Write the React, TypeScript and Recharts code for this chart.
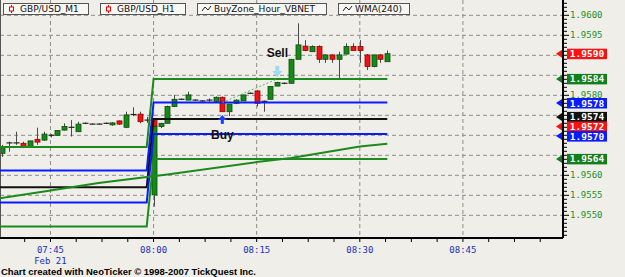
import React from "react";
import {
  ComposedChart,
  Bar,
  Line,
  XAxis,
  YAxis,
  CartesianGrid,
  ReferenceDot,
  ReferenceLine,
} from "recharts";

// minutes relative to 08:00 (Feb 21), one GBP/USD M1 candle each
const minutes = [
  -22, -21, -20, -19, -18, -17, -16, -15, -14, -13, -12, -11, -10, -9, -8, -7,
  -6, -5, -4, -3, -2, -1, 0, 1, 2, 3, 4, 5, 6, 7, 8, 9, 10, 11, 12, 13, 14, 15,
  16, 17, 18, 19, 20, 21, 22, 23, 24, 25, 26, 27, 28, 29, 30, 31, 32, 33, 34,
];
const m1Open = [
  1.95655, 1.9568, 1.9568, 1.9568, 1.95671, 1.9569, 1.95688, 1.95699, 1.957,
  1.95713, 1.95719, 1.95709, 1.9573, 1.95728, 1.95728, 1.9573, 1.95726, 1.95736,
  1.9572, 1.95751, 1.95753, 1.95737, 1.9574, 1.95722, 1.9573, 1.95772, 1.9579,
  1.95788, 1.95788, 1.95786, 1.95786, 1.95785, 1.95795, 1.95759, 1.9578,
  1.95786, 1.95805, 1.95811, 1.95784, 1.9579, 1.95823, 1.9583, 1.9583, 1.9589,
  1.95923, 1.95909, 1.95922, 1.9589, 1.95901, 1.9589, 1.95903, 1.95922,
  1.95922, 1.95901, 1.95872, 1.95901, 1.95884,
];
const m1High = [
  1.95676, 1.95684, 1.95709, 1.95684, 1.95686, 1.95719, 1.95709, 1.95703,
  1.95712, 1.9573, 1.95738, 1.95734, 1.95732, 1.9573, 1.9573, 1.95732, 1.95733,
  1.95737, 1.95759, 1.9577, 1.95759, 1.95746, 1.95743, 1.95731, 1.95774,
  1.95801, 1.95792, 1.95809, 1.9579, 1.95788, 1.95792, 1.95797, 1.95797,
  1.95778, 1.9579, 1.95801, 1.95807, 1.95813, 1.95787, 1.95822, 1.95834,
  1.95832, 1.9589, 1.9598, 1.95938, 1.95925, 1.95925, 1.95903, 1.95903,
  1.95909, 1.9593, 1.9593, 1.95938, 1.95903, 1.95901, 1.95903, 1.95912,
];
const m1Low = [
  1.95646, 1.95659, 1.95676, 1.95668, 1.95671, 1.95676, 1.95686, 1.95695, 1.957,
  1.95712, 1.95697, 1.95709, 1.95728, 1.95727, 1.95727, 1.95728, 1.95724,
  1.95726, 1.95718, 1.95748, 1.9573, 1.95731, 1.95723, 1.95718, 1.9573,
  1.95772, 1.95788, 1.95788, 1.95786, 1.95784, 1.95784, 1.95783, 1.95759,
  1.95748, 1.95778, 1.95786, 1.95803, 1.95772, 1.95759, 1.9579, 1.95823,
  1.95828, 1.9583, 1.9589, 1.9591, 1.95909, 1.95881, 1.95881, 1.95881, 1.95843,
  1.95903, 1.95912, 1.95881, 1.95863, 1.9587, 1.95881, 1.95884,
];
const m1Close = [
  1.95671, 1.95681, 1.95681, 1.95671, 1.95686, 1.95683, 1.95703, 1.957, 1.95712,
  1.95722, 1.9572, 1.95728, 1.9573, 1.95728, 1.95728, 1.9573, 1.95731, 1.95728,
  1.95751, 1.95752, 1.95734, 1.95738, 1.95723, 1.9573, 1.95772, 1.9579, 1.9579,
  1.95801, 1.95788, 1.95786, 1.95788, 1.95795, 1.95759, 1.95778, 1.95788,
  1.95801, 1.95805, 1.9578, 1.95785, 1.95822, 1.95832, 1.9583, 1.9589, 1.95926,
  1.95912, 1.95922, 1.9589, 1.95901, 1.9589, 1.95901, 1.95922, 1.95912,
  1.95912, 1.95872, 1.95901, 1.9589, 1.95904,
];

// GBP/USD H1 bar (07:00 hour) drawn at 08:00
const h1Time = 0;
const h1Bar = { open: 1.95551, high: 1.95722, low: 1.95522, close: 1.95722 };

// BuyZone_Hour_VBNET levels: before / after the 08:00 hour change
const zoneTimes = [-23, -1, 0, 34];
const zoneBefore = [1.95671, 1.95612, 1.9557, 1.95532, 1.95472];
const zoneAfter = [1.95841, 1.95782, 1.95741, 1.95703, 1.95641];

// WMA(240)
const wmaTimes = [-23, -15, -8, -1, 2, 15, 20, 30, 34];
const wmaValues = [
  1.95541, 1.95562, 1.95581, 1.95596, 1.95602, 1.95633, 1.95643, 1.95672,
  1.95679,
];

// buy / sell signals
const signals = [
  { t: 10, price: 1.95751, kind: "Buy" },
  { t: 18, price: 1.95846, kind: "Sell" },
];
const tradeTimes = [10, 18];
const tradePrices = [1.95782, 1.95841];

// axes
const xMajor = [-15, 0, 15, 30, 45];
const xLabels = ["07:45", "08:00", "08:15", "08:30", "08:45"];
const dateLabel = "Feb 21";
const yMajor = [
  1.955, 1.9555, 1.956, 1.9565, 1.957, 1.9575, 1.958, 1.9585, 1.959, 1.9595,
  1.96,
];

const legendItems = ["GBP/USD_M1", "GBP/USD_H1", "BuyZone_Hour_VBNET", "WMA(240)"];

const GREEN = "#1c8a1c";
const BLUE = "#0a1cff";
const RED = "#ff1010";
const BLACK = "#111111";
const zoneColors = [GREEN, BLUE, BLACK, BLUE, GREEN];

const xDomain = [-22.34, 59.56];
const yDomain = [1.9544325, 1.9603825];

const xTicks: number[] = [];
for (let v = -18.75; v <= 56.25; v += 3.75) xTicks.push(v);
const yMinor: number[] = [];
for (let k = 19545; k <= 19603; k++) yMinor.push(k / 10000);

// last-value tags on the price axis (nudge = px shift to keep them apart)
const tags = [
  { value: m1Close[m1Close.length - 1], color: RED, nudge: 0 },
  { value: zoneAfter[0], color: "#12801a", nudge: 0 },
  { value: zoneAfter[1], color: BLUE, nudge: 0.5 },
  { value: zoneAfter[2], color: BLACK, nudge: -2 },
  { value: h1Bar.close, color: RED, nudge: 0 },
  { value: zoneAfter[3], color: BLUE, nudge: 2 },
  { value: zoneAfter[4], color: "#12801a", nudge: 0 },
];

const candles = minutes.map((t, i) => ({
  t,
  open: m1Open[i],
  high: m1High[i],
  low: m1Low[i],
  close: m1Close[i],
  h1: t === h1Time ? h1Bar : null,
}));

const envelope = (d: any): [number, number] =>
  d.h1
    ? [Math.min(d.low, d.h1.low), Math.max(d.high, d.h1.high)]
    : [d.low, d.high];

const zoneSeries = zoneBefore.map((b, i) =>
  zoneTimes.map((t, j) => ({ t, v: j < 2 ? b : zoneAfter[i] }))
);
const wmaData = wmaTimes.map((t, i) => ({ t, v: wmaValues[i] }));
const tradeData = tradeTimes.map((t, i) => ({ t, v: tradePrices[i] }));

function Candle(props: any) {
  const { x, y, width, height, payload } = props;
  if (x == null || y == null || !payload) return null;
  const [lo, hi] = envelope(payload);
  const top = Math.min(y, y + height);
  const bot = Math.max(y, y + height);
  const py = (v: number) =>
    hi === lo ? top : top + ((hi - v) / (hi - lo)) * (bot - top);
  const cx = Math.round(x + width / 2) + 0.5;

  const draw = (c: any, key: string) => {
    const yo = py(c.open);
    const yc = py(c.close);
    const up = c.close >= c.open;
    const bt = Math.min(yo, yc);
    const bh = Math.abs(yo - yc);
    return (
      <g key={key}>
        <line x1={cx} x2={cx} y1={py(c.high)} y2={py(c.low)} stroke="#4a4a4a" />
        {bh < 1.2 ? (
          <line x1={cx - 3} x2={cx + 3} y1={yc} y2={yc} stroke="#222" strokeWidth={1.2} />
        ) : (
          <rect
            x={cx - 2.5}
            y={bt}
            width={5}
            height={bh}
            fill={up ? "#168a16" : "#f01212"}
            stroke={up ? "#0c4a0c" : "#8a0808"}
            strokeWidth={0.8}
          />
        )}
      </g>
    );
  };

  return (
    <g>
      {payload.h1 ? draw(payload.h1, "h1") : null}
      {draw(payload, "m1")}
    </g>
  );
}

function TimeTick(props: any) {
  const { x, y, payload } = props;
  const i = xMajor.indexOf(payload.value);
  return (
    <g>
      <line x1={x} x2={x} y1={y} y2={y + 4} stroke="#000" />
      {i >= 0 ? (
        <text
          x={x}
          y={y + 15}
          textAnchor="middle"
          fill="#2030b8"
          fontSize={9}
          fontFamily="DejaVu Sans Mono"
        >
          {xLabels[i]}
        </text>
      ) : null}
      {i === 0 ? (
        <text
          x={x}
          y={y + 26}
          textAnchor="middle"
          fill="#2030b8"
          fontSize={9}
          fontFamily="DejaVu Sans Mono"
        >
          {dateLabel}
        </text>
      ) : null}
    </g>
  );
}

function PriceTick(props: any) {
  const { x, y: y0, payload } = props;
  const v = payload.value;
  const tag = tags.find((g) => g.value === v);
  if (tag) {
    const y = y0 + tag.nudge;
    return (
      <g>
        <polygon
          points={`${x - 7},${y} ${x - 1},${y - 4} ${x - 1},${y + 4}`}
          fill={tag.color}
        />
        <rect x={x + 4} y={y - 5} width={40} height={10.5} fill={tag.color} />
        <text
          x={x + 24}
          y={y + 3.5}
          textAnchor="middle"
          fill="#fff"
          fontSize={9.5}
          fontWeight="bold"
          fontFamily="DejaVu Sans Mono"
        >
          {v.toFixed(4)}
        </text>
      </g>
    );
  }
  const major = yMajor.some((m) => Math.abs(m - v) < 1e-7);
  // labels sitting under a value tag are hidden by it
  const covered = tags.some((g) => Math.abs(g.value - v) < 0.00016);
  return (
    <g>
      <line x1={x} x2={x + (major ? 6 : 4)} y1={y0} y2={y0} stroke="#000" />
      {major && !covered ? (
        <text
          x={x + 7}
          y={y0 + 3}
          fill="#1f8f1f"
          fontSize={9}
          fontFamily="DejaVu Sans Mono"
        >
          {v.toFixed(4)}
        </text>
      ) : null}
    </g>
  );
}

function SignalMark(kind: string, color: string) {
  return (props: any) => {
    const { cx, cy } = props;
    if (cx == null || cy == null) return <g />;
    if (kind === "Buy") {
      return (
        <g>
          <polygon points={`${cx},${cy} ${cx - 4.5},${cy + 5} ${cx + 4.5},${cy + 5}`} fill={color} />
          <rect x={cx - 1.5} y={cy + 5} width={3} height={4} fill={color} />
          <text
            x={cx}
            y={cy + 24.5}
            textAnchor="middle"
            fontSize={12}
            fontWeight="bold"
            fontFamily="Liberation Sans"
            fill="#111"
          >
            {kind}
          </text>
        </g>
      );
    }
    return (
      <g>
        <polygon points={`${cx},${cy} ${cx - 5},${cy - 6} ${cx + 5},${cy - 6}`} fill={color} />
        <rect x={cx - 2} y={cy - 11} width={4} height={5} fill={color} />
        <text
          x={cx}
          y={cy - 20}
          textAnchor="middle"
          fontSize={12}
          fontWeight="bold"
          fontFamily="Liberation Sans"
          fill="#111"
        >
          {kind}
        </text>
      </g>
    );
  };
}

const legendBoxes = [
  { left: 3, width: 84 },
  { left: 100, width: 84 },
  { left: 197, width: 128 },
  { left: 338, width: 70 },
];

export default function App() {
  return (
    <div
      style={{
        position: "absolute",
        left: 0,
        top: 0,
        width: 625,
        height: 277,
        background: "#efeee9",
        overflow: "hidden",
      }}
    >
      <ComposedChart
        width={625}
        height={277}
        data={candles}
        margin={{ top: 0, right: 0, bottom: 0, left: 0 }}
      >
        <CartesianGrid
          horizontalValues={yMajor}
          verticalValues={xMajor}
          stroke="#8c8c8c"
          strokeDasharray="4 3"
        />
        <XAxis
          dataKey="t"
          type="number"
          domain={xDomain}
          allowDataOverflow
          ticks={xTicks}
          interval={0}
          tickSize={0}
          tickMargin={0}
          tickLine={false}
          tick={<TimeTick />}
          axisLine={{ stroke: "#000", strokeWidth: 2 }}
          height={39}
        />
        <YAxis
          orientation="right"
          type="number"
          domain={yDomain}
          allowDataOverflow
          ticks={[...yMinor, ...tags.map((g) => g.value)]}
          interval={0}
          tickSize={0}
          tickMargin={0}
          tickLine={false}
          tick={<PriceTick />}
          axisLine={{ stroke: "#000", strokeWidth: 2 }}
          width={62}
        />
        <ReferenceLine x={xDomain[0]} stroke="#555" strokeWidth={2} ifOverflow="visible" />
        {zoneSeries.map((s, i) => (
          <Line
            key={"zone" + i}
            data={s}
            dataKey="v"
            stroke={zoneColors[i]}
            strokeWidth={2}
            dot={false}
            type="linear"
            isAnimationActive={false}
          />
        ))}
        <Line
          data={wmaData}
          dataKey="v"
          stroke={GREEN}
          strokeWidth={2}
          dot={false}
          type="linear"
          isAnimationActive={false}
        />
        <Bar
          dataKey={(d: any) => envelope(d)}
          barSize={5}
          shape={<Candle />}
          isAnimationActive={false}
        />
        <Line
          data={tradeData}
          dataKey="v"
          stroke="#5cb85c"
          strokeWidth={1}
          strokeDasharray="2 2"
          dot={false}
          type="linear"
          isAnimationActive={false}
        />
        {signals.map((s) => (
          <ReferenceDot
            key={s.kind}
            x={s.t}
            y={s.price}
            r={4}
            ifOverflow="visible"
            shape={SignalMark(s.kind, s.kind === "Buy" ? "#1a3cff" : "#9edcf2")}
          />
        ))}
      </ComposedChart>

      {legendItems.map((name, i) => (
        <div
          key={name}
          style={{
            position: "absolute",
            left: legendBoxes[i].left,
            top: 3,
            width: legendBoxes[i].width,
            height: 10,
            border: "1px solid #555",
            background: "#f7f7f4",
            fontFamily: "DejaVu Sans",
            fontSize: 9,
            lineHeight: "10px",
            color: "#111",
            whiteSpace: "nowrap",
          }}
        >
          <svg
            width={12}
            height={10}
            style={{ position: "absolute", left: 2, top: 0 }}
          >
            {i < 2 ? (
              <g>
                <line x1={5.5} x2={5.5} y1={1} y2={9} stroke="#e00" />
                <rect x={3.5} y={3} width={4} height={4} fill="#fff" stroke="#e00" />
              </g>
            ) : (
              <path d="M2,7 L5,3 L8,6 L11,2" fill="none" stroke="#222" />
            )}
          </svg>
          <span style={{ position: "absolute", left: 16, top: 0 }}>{name}</span>
        </div>
      ))}

      <svg
        width={625}
        height={12}
        style={{ position: "absolute", left: 0, top: 265 }}
      >
        <text
          x={1}
          y={10}
          fontSize={9}
          fontWeight="bold"
          fontFamily="Liberation Sans"
          fill="#000"
          textLength={255}
          lengthAdjust="spacingAndGlyphs"
        >
          Chart created with NeoTicker © 1998-2007 TickQuest Inc.
        </text>
      </svg>
    </div>
  );
}
